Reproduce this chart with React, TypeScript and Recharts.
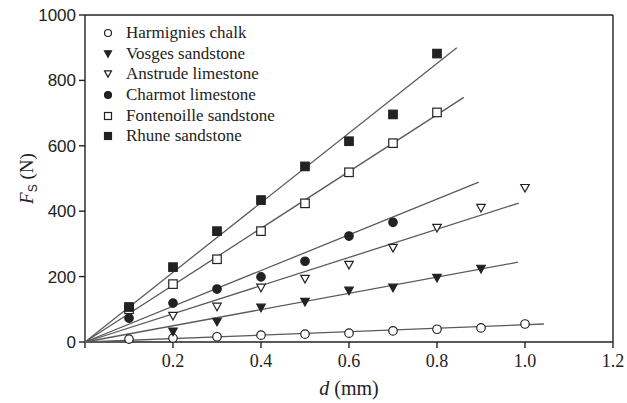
import { ScatterChart, Scatter, XAxis, YAxis, ReferenceLine } from 'recharts';

// displacement d (mm) at which each shear force was measured
const dValues = [0.1, 0.2, 0.3, 0.4, 0.5, 0.6, 0.7, 0.8, 0.9, 1.0];

// measured shear force Fs (N); null = no measurement
const harmignies = [9, 12, 16, 21, 24, 27, 34, 39, 43, 55];
const vosges = [null, 31, 61, 104, 122, 156, 165, 195, 223, null];
const anstrude = [null, 79, 107, 165, 192, 235, 287, 348, 409, 470];
const charmot = [73, 119, 162, 199, 247, 324, 366, null, null, null];
const fontenoille = [100, 177, 253, 339, 424, 519, 608, 702, null, null];
const rhune = [107, 229, 339, 434, 537, 614, 696, 882, null, null];

// linear fits through the origin: [d at end of line, Fs at end of line]
const harmigniesFit = [1.043, 55];
const vosgesFit = [0.984, 244];
const anstrudeFit = [0.986, 425];
const charmotFit = [0.895, 489];
const fontenoilleFit = [0.861, 748];
const rhuneFit = [0.845, 900];

const xTicks = [0, 0.2, 0.4, 0.6, 0.8, 1.0, 1.2];
const yTicks = [0, 200, 400, 600, 800, 1000];

type Kind = 'openCircle' | 'filledCircle' | 'openTri' | 'filledTri' | 'openSquare' | 'filledSquare';

const series: { name: string; values: (number | null)[]; fit: number[]; kind: Kind }[] = [
  { name: 'Harmignies chalk', values: harmignies, fit: harmigniesFit, kind: 'openCircle' },
  { name: 'Vosges sandstone', values: vosges, fit: vosgesFit, kind: 'filledTri' },
  { name: 'Anstrude limestone', values: anstrude, fit: anstrudeFit, kind: 'openTri' },
  { name: 'Charmot limestone', values: charmot, fit: charmotFit, kind: 'filledCircle' },
  { name: 'Fontenoille sandstone', values: fontenoille, fit: fontenoilleFit, kind: 'openSquare' },
  { name: 'Rhune sandstone', values: rhune, fit: rhuneFit, kind: 'filledSquare' },
];

const INK = '#222';
const LINE = '#5a5a5a';

function Marker({ kind, cx, cy, s }: { kind: Kind; cx: number; cy: number; s: number }) {
  const open = kind.startsWith('open');
  const fill = open ? '#fff' : INK;
  const sw = 1.2;
  if (kind.endsWith('Circle')) {
    return <circle cx={cx} cy={cy} r={s / 2} fill={fill} stroke={INK} strokeWidth={sw} />;
  }
  if (kind.endsWith('Square')) {
    return <rect x={cx - s / 2} y={cy - s / 2} width={s} height={s} fill={fill} stroke={INK} strokeWidth={sw} />;
  }
  const h = s * 0.9;
  const pts = `${cx - s / 2},${cy - h / 2} ${cx + s / 2},${cy - h / 2} ${cx},${cy + h / 2}`;
  return <polygon points={pts} fill={fill} stroke={INK} strokeWidth={sw} />;
}

const toPoints = (values: (number | null)[]) =>
  values
    .map((f, i) => ({ d: dValues[i], f }))
    .filter((p) => p.f !== null);

const fitLine = (fit: number[]) => [
  { d: 0, f: 0 },
  { d: fit[0], f: fit[1] },
];

function YLabel(props: any) {
  const { x, y, height } = props.viewBox;
  const cx = x + 8;
  const cy = y + height / 2;
  return (
    <text
      x={cx}
      y={cy}
      transform={`rotate(-90 ${cx} ${cy})`}
      textAnchor="middle"
      fill={INK}
      fontFamily="'Liberation Serif', serif"
      fontSize={19}
    >
      <tspan fontStyle="italic">F</tspan>
      <tspan fontSize={12} dy={4} fontFamily="'Liberation Sans', sans-serif">S</tspan>
      <tspan dy={-4}> (N)</tspan>
    </text>
  );
}

function XLabel(props: any) {
  const { x, y, width } = props.viewBox;
  return (
    <text
      x={x + width / 2}
      y={y + 53}
      textAnchor="middle"
      fill={INK}
      fontFamily="'Liberation Serif', serif"
      fontSize={20}
    >
      <tspan fontStyle="italic">d</tspan>
      <tspan> (mm)</tspan>
    </text>
  );
}

export default function App() {
  return (
    <div style={{ position: 'absolute', left: 0, top: 0, width: 627, height: 403, background: '#fff' }}>
      <ScatterChart width={627} height={403} margin={{ top: 15, right: 14, bottom: 0, left: 25 }}>
        <XAxis
          type="number"
          dataKey="d"
          domain={[0, 1.2]}
          ticks={xTicks}
          tickFormatter={(v: number) => (v === 0 ? '' : v.toFixed(1))}
          height={61}
          tickSize={6}
          tickMargin={6}
          stroke={INK}
          strokeWidth={1.4}
          tick={{ fill: INK, fontFamily: "'Liberation Serif', serif", fontSize: 18 }}
          label={<XLabel />}
        />
        <YAxis
          type="number"
          dataKey="f"
          domain={[0, 1000]}
          ticks={yTicks}
          width={60}
          tickSize={6}
          tickMargin={3}
          stroke={INK}
          strokeWidth={1.4}
          tick={{ fill: INK, fontFamily: "'Liberation Sans', sans-serif", fontSize: 17 }}
          label={<YLabel />}
        />
        <ReferenceLine y={1000} stroke={INK} strokeWidth={1.4} />
        <ReferenceLine x={1.2} stroke={INK} strokeWidth={1.4} />
        {series.map((s) => (
          <Scatter
            key={s.name + '-fit'}
            data={fitLine(s.fit)}
            line={{ stroke: LINE, strokeWidth: 1.3 }}
            shape={() => <g />}
            isAnimationActive={false}
          />
        ))}
        {series.map((s) => (
          <Scatter
            key={s.name}
            name={s.name}
            data={toPoints(s.values)}
            shape={(p: any) => <Marker kind={s.kind} cx={p.cx} cy={p.cy} s={8.5} />}
            isAnimationActive={false}
          />
        ))}
      </ScatterChart>
      <div
        style={{
          position: 'absolute',
          left: 100,
          top: 23,
          fontFamily: "'Liberation Serif', serif",
          fontSize: 17,
          color: INK,
        }}
      >
        {series.map((s) => (
          <div key={s.name} style={{ display: 'flex', alignItems: 'center', height: 20.6 }}>
            <svg width={16} height={12} style={{ marginRight: 10 }}>
              <Marker kind={s.kind} cx={8} cy={6} s={7} />
            </svg>
            <span>{s.name}</span>
          </div>
        ))}
      </div>
    </div>
  );
}
